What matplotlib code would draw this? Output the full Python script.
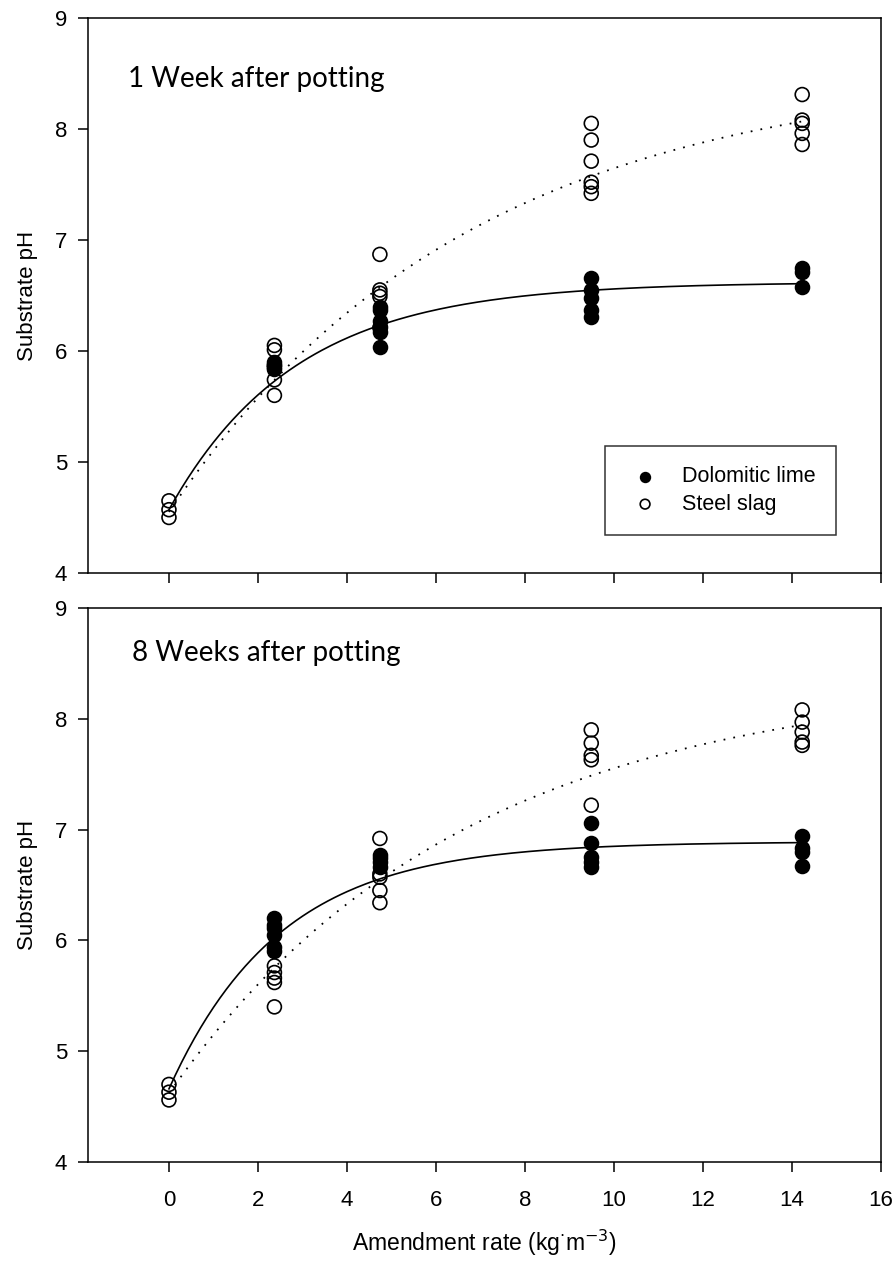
import numpy as np
import matplotlib
matplotlib.use('Agg')
import matplotlib.pyplot as plt

plt.rcParams['font.family'] = ['Liberation Sans Narrow', 'Liberation Sans', 'DejaVu Sans']

# amendment rates (kg m-3)
rates = [0, 2.37, 4.74, 9.49, 14.23]

# 1 week after potting
lime_w1 = {
    2.37: [5.90, 5.87, 5.84],
    4.74: [6.40, 6.37, 6.27, 6.22, 6.17, 6.04],
    9.49: [6.66, 6.55, 6.48, 6.37, 6.31],
    14.23: [6.75, 6.71, 6.58],
}
slag_w1 = {
    0: [4.65, 4.57, 4.50],
    2.37: [6.05, 6.01, 5.87, 5.85, 5.74, 5.60],
    4.74: [6.87, 6.55, 6.52, 6.49, 6.21],
    9.49: [8.05, 7.90, 7.71, 7.52, 7.48, 7.42],
    14.23: [8.31, 8.08, 8.05, 7.96, 7.86],
}

# 8 weeks after potting
lime_w8 = {
    2.37: [6.20, 6.14, 6.11, 6.05, 5.94, 5.90],
    4.74: [6.77, 6.74, 6.71, 6.66],
    9.49: [7.06, 6.88, 6.75, 6.71, 6.66],
    14.23: [6.94, 6.83, 6.80, 6.67],
}
slag_w8 = {
    0: [4.70, 4.63, 4.56],
    2.37: [5.77, 5.71, 5.66, 5.62, 5.40],
    4.74: [6.92, 6.60, 6.57, 6.45, 6.34],
    9.49: [7.90, 7.78, 7.67, 7.63, 7.22],
    14.23: [8.08, 7.97, 7.88, 7.79, 7.76],
}

# fitted curves y = y0 + a*(1 - exp(-b*x))
fit_lime_w1 = (4.57, 2.05, 0.351)
fit_slag_w1 = (4.55, 4.00, 0.1487)
fit_lime_w8 = (4.66, 2.23, 0.40)
fit_slag_w8 = (4.62, 3.76, 0.1515)

panels = [
    ('1 Week after potting', lime_w1, slag_w1, fit_lime_w1, fit_slag_w1, (0.050, 0.890)),
    ('8 Weeks after potting', lime_w8, slag_w8, fit_lime_w8, fit_slag_w8, (0.056, 0.918)),
]

fig = plt.figure(figsize=(8.94, 12.64), dpi=100)
ax1 = fig.add_axes([0.0984, 0.5467, 0.887, 0.4391])
ax2 = fig.add_axes([0.0984, 0.0807, 0.887, 0.4383])

xs = np.linspace(0, rates[-1], 200)

for ax, (title, lime, slag, fl, fs, tpos) in zip([ax1, ax2], panels):
    lx = [k for k, v in lime.items() for _ in v]
    ly = [y for v in lime.values() for y in v]
    sx = [k for k, v in slag.items() for _ in v]
    sy = [y for v in slag.values() for y in v]

    ax.plot(xs, fl[0] + fl[1] * (1 - np.exp(-fl[2] * xs)), color='black', lw=1.2, zorder=2)
    ax.plot(xs, fs[0] + fs[1] * (1 - np.exp(-fs[2] * xs)), color='black', lw=1.3,
            linestyle=(0, (1, 4.5)), zorder=2)
    ax.scatter(lx, ly, s=100, facecolor='black', edgecolor='black', lw=1.2,
               label='Dolomitic lime', zorder=3)
    ax.scatter(sx, sy, s=100, facecolor='none', edgecolor='black', lw=1.2,
               label='Steel slag', zorder=4)

    ax.set_xlim(-1.82, 16)
    ax.set_ylim(4, 9)
    ax.set_xticks(np.arange(0, 17, 2))
    ax.set_yticks([4, 5, 6, 7, 8, 9])
    for sp in ax.spines.values():
        sp.set_linewidth(1.1)
    ax.tick_params(direction='out', length=7, width=1.1, labelsize=16)
    ax.tick_params(axis='x', pad=13)
    ax.tick_params(axis='y', pad=8)
    ax.set_ylabel('Substrate pH', fontsize=16, labelpad=12, family=['Liberation Sans', 'DejaVu Sans'])
    ax.text(tpos[0], tpos[1], title, transform=ax.transAxes, fontsize=20,
            family=['Lato', 'DejaVu Sans'], va='center', ha='left')

ax1.tick_params(axis='x', labelbottom=False)

leg = ax1.legend(loc='lower right', bbox_to_anchor=(0.943, 0.068), frameon=True,
                 fancybox=False, edgecolor='black', markerscale=0.7,
                 handlelength=1.8, handletextpad=0.8, borderpad=0.95, labelspacing=0.3,
                 borderaxespad=0,
                 prop={'family': ['Liberation Sans', 'DejaVu Sans'], 'size': 15.5})
leg.get_frame().set_linewidth(1.1)

ax2.set_xlabel('Amendment rate (kg$^{\\cdot}$m$^{-3}$)', fontsize=16.5, labelpad=12,
               family=['Liberation Sans', 'DejaVu Sans'])

fig.savefig('out.png', dpi=100)
